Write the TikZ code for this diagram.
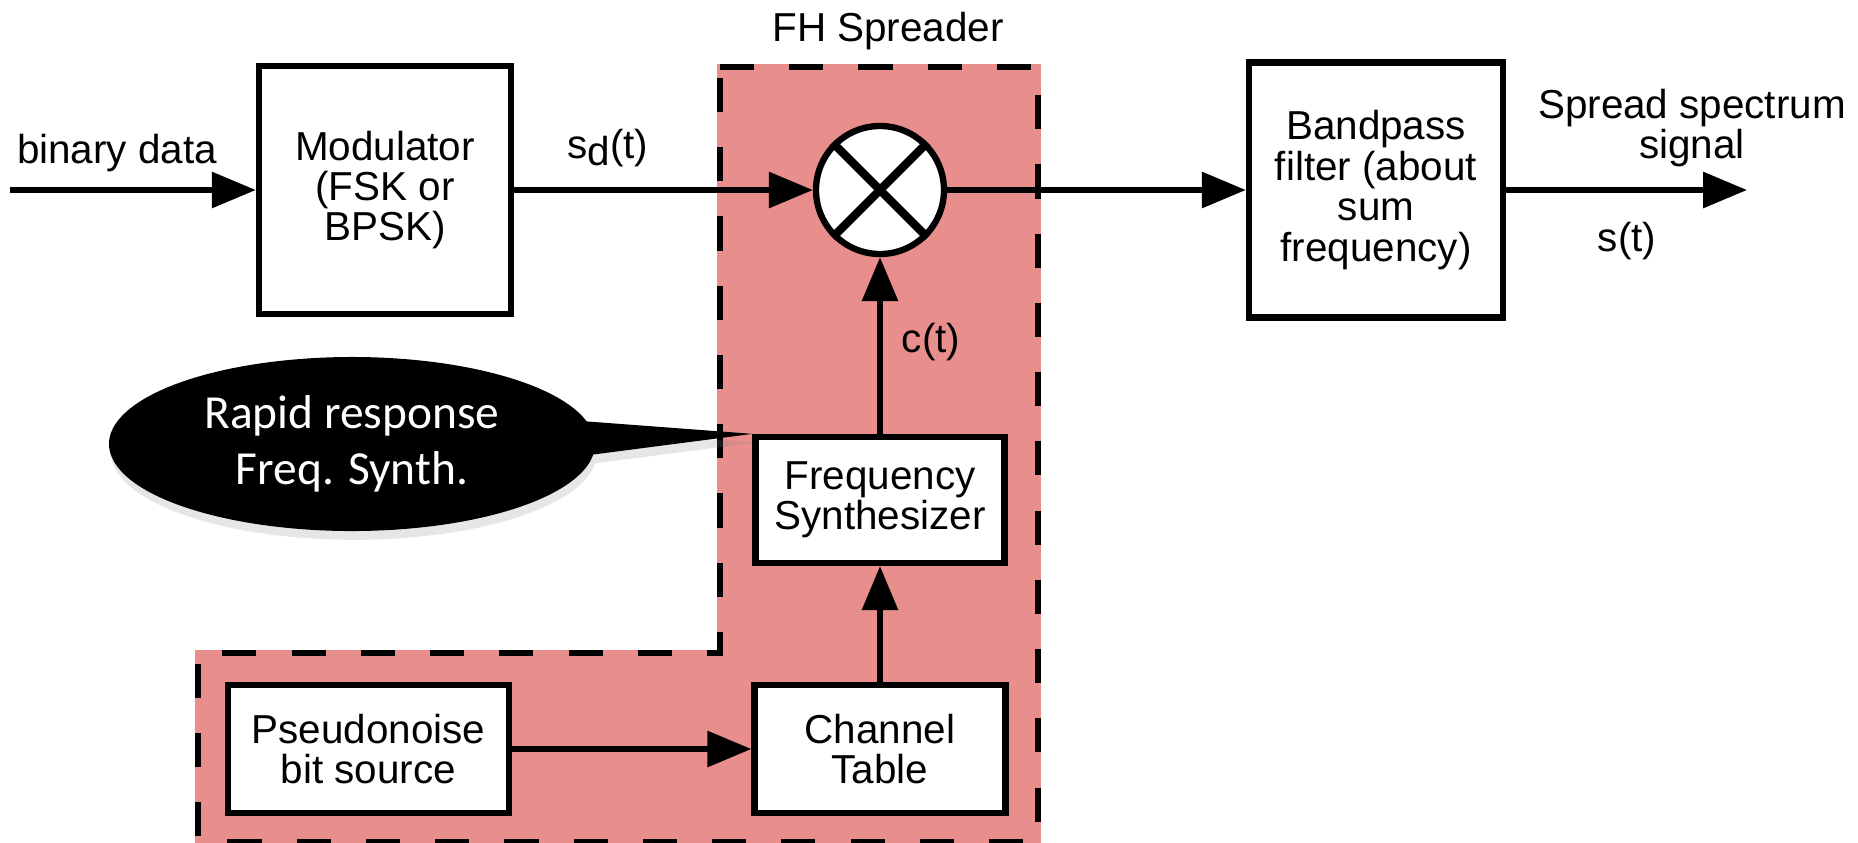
\documentclass[tikz,border=0pt]{standalone}
\usepackage{fontspec}
\setmainfont{Liberation Sans}
\newfontfamily\calloutfont{Carlito}
\usetikzlibrary{arrows.meta,shapes.callouts,shadows}
\definecolor{fhpink}{RGB}{232,142,141}

\begin{document}
\begin{tikzpicture}[
  >={Triangle[length=12.5pt, width=10pt]},
  block/.style={rectangle, draw=black, fill=white, line width=1.8pt, inner sep=2pt},
  mixer/.style={circle, draw=black, fill=white, line width=1.8pt, minimum size=1.28cm, inner sep=0pt},
  bubble/.style={ellipse callout, fill=black, text=white, inner sep=0pt,
    font=\calloutfont\fontsize{13.5}{16}\selectfont},
  every node/.style={align=center, font=\fontsize{11.5}{11.5}\selectfont}
]
  \useasboundingbox (0,0) rectangle (18.58,-8.42);

  % FH spreader area
  \path[fill=fhpink, draw=fhpink, line width=1.9pt]
    (7.20,-0.67) -- (10.38,-0.67) -- (10.38,-8.42) -- (1.98,-8.42) -- (1.98,-6.53) -- (7.20,-6.53) -- cycle;
  \draw[line width=1.9pt, dash pattern=on 9.7pt off 10pt]
    (7.20,-0.67) -- (10.38,-0.67) -- (10.38,-8.42) -- (1.98,-8.42) -- (1.98,-6.53) -- (7.20,-6.53) -- cycle;

  \node[block, minimum width=2.52cm, minimum height=2.48cm] (mod) at (3.85,-1.90) {Modulator\\(FSK or\\BPSK)};
  \node[mixer] (mix) at (8.80,-1.90) {};
  \node[block, minimum width=2.54cm, minimum height=2.55cm] (bpf) at (13.76,-1.90) {Bandpass\\filter (about\\sum\\frequency)};
  \node[block, minimum width=2.49cm, minimum height=1.26cm] (fs) at (8.80,-5.00) {Frequency\\Synthesizer};
  \node[block, minimum width=2.51cm, minimum height=1.28cm] (ct) at (8.80,-7.49) {Channel\\Table};
  \node[block, minimum width=2.81cm, minimum height=1.28cm] (pn) at (3.685,-7.49) {Pseudonoise\\bit source};

  \coordinate (in) at (0.10,-1.90);
  \coordinate (out) at (17.47,-1.90);

  \draw[line width=2.4pt] (mix.north west) -- (mix.south east);
  \draw[line width=2.4pt] (mix.north east) -- (mix.south west);

  \draw[->, line width=1.6pt] (in) -- (mod);
  \draw[->, line width=1.6pt] (mod) -- (mix);
  \draw[->, line width=1.6pt] (mix) -- (bpf);
  \draw[->, line width=1.6pt] (bpf) -- (out);
  \draw[->, line width=1.6pt] (fs) -- (mix);
  \draw[->, line width=1.6pt] (ct) -- (fs);
  \draw[->, line width=1.6pt] (pn) -- (ct);

  \node (bin) at (1.17,-1.53) {binary data};
  \node (sd) at (6.08,-1.48) {s\raisebox{-0.35ex}{d}(t)};
  \node (fh) at (8.88,-0.31) {FH Spreader};
  \node (clbl) at (9.31,-3.42) {c(t)};
  \node (ssig) at (16.92,-1.28) {Spread spectrum\\signal};
  \node (st) at (16.27,-2.41) {s(t)};

  \node[bubble, minimum width=4.86cm, minimum height=1.74cm,
    callout absolute pointer={(fs.north west)}, callout pointer arc=22,
    drop shadow={shadow xshift=0.6pt, shadow yshift=-2.5pt, opacity=0.2}] (note) at (3.52,-4.44) {Rapid response\\Freq. Synth.};
\end{tikzpicture}
\end{document}
